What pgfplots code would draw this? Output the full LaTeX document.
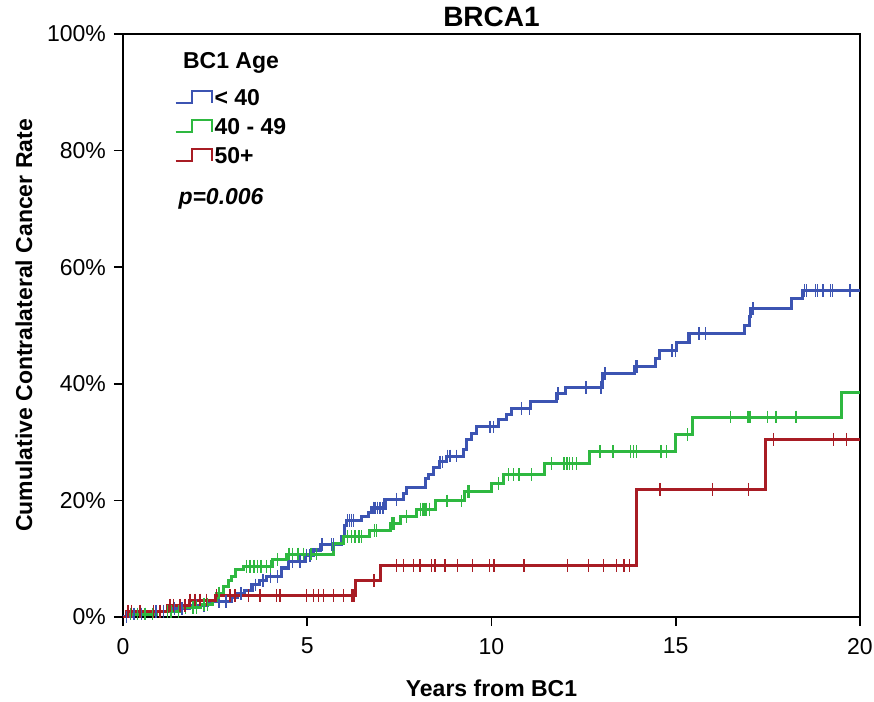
\documentclass[border=0pt]{standalone}
\usepackage{fontspec}
\setmainfont{Liberation Sans}
\usepackage{pgfplots}
\pgfplotsset{compat=1.18}

\definecolor{cBlue}{RGB}{60,84,178}
\definecolor{cGreen}{RGB}{46,184,64}
\definecolor{cRed}{RGB}{168,28,36}

\begin{document}
\fontsize{11.5}{13.8}\selectfont
\begin{tikzpicture}
\begin{axis}[
  scale only axis,
  width=368.5pt, height=291.5pt,
  xmin=0, xmax=20, ymin=0, ymax=100,
  xtick={0,5,10,15,20},
  ytick={0,20,40,60,80,100},
  yticklabel={\pgfmathprintnumber{\tick}\%},
  /pgf/number format/assume math mode=true,
  tick align=outside, xtick pos=bottom, ytick pos=left,
  major tick length=4.5pt,
  tick style={black, line width=0.8pt},
  axis line style={line width=0.8pt},
  xticklabel style={yshift=-2pt},
  title={BRCA1},
  title style={font=\fontsize{14}{16}\selectfont\bfseries, at={(axis description cs:0.5,1)}, anchor=south, yshift=-6.5pt},
  xlabel={Years from BC1},
  ylabel={Cumulative Contralateral Cancer Rate},
  label style={font=\bfseries},
  xlabel style={at={(axis description cs:0.5,-0.1218)}, anchor=center},
  ylabel style={at={(axis description cs:-0.1343,0.5)}, anchor=center},
  legend style={at={(axis cs:1.39,91.0)}, anchor=north west, draw=none, fill=none,
    font=\bfseries, inner sep=0pt, row sep=4pt,
    nodes={inner sep=1pt, text height=8.5pt, text depth=0pt},
    cells={anchor=west}},
  legend image code/.code={\draw[#1, line width=1pt] (0pt,-3pt) -- (8pt,-3pt) -- (8pt,3pt) -- (18pt,3pt) -- (18pt,-3pt);},
]

% legend entries (step symbols)
\addlegendimage{cBlue}
\addlegendentry{< 40}
\addlegendimage{cGreen}
\addlegendentry{40 - 49}
\addlegendimage{cRed}
\addlegendentry{50+}

% ---- age < 40 ----
\addplot[const plot, cBlue, line width=1.55pt, forget plot] coordinates {
(0,0) (0.25,0.5) (0.7,1.0) (1.3,1.5) (1.8,2.0) (2.3,2.6) (2.95,3.3) (3.1,4.0)
(3.3,4.6) (3.5,5.5) (3.7,6.2) (3.9,7.0) (4.3,8.4) (4.5,9.5) (4.94,10.6)
(5.17,11.5) (5.36,12.4) (5.93,13.8) (6.0,15.7) (6.07,16.6) (6.48,17.3)
(6.66,18.0) (6.75,18.7) (7.11,20.2) (7.61,21.2) (7.70,22.2) (8.2,23.7)
(8.29,24.5) (8.42,25.6) (8.58,26.6) (8.78,27.6) (9.25,28.7) (9.33,30.5)
(9.46,31.5) (9.6,32.6) (10.19,33.8) (10.41,34.8) (10.55,35.8) (11.07,37.0)
(11.77,38.3) (12.0,39.4) (13.0,41.7) (13.88,42.9) (14.44,44.3) (14.55,45.7)
(15.02,47.1) (15.36,48.6) (16.86,50.0) (16.99,51.5) (17.04,52.9) (18.15,54.6)
(18.44,56.0) (20,56.0)
};
\addplot[only marks, mark=|, mark size=3.2pt, cBlue, mark options={line width=0.7pt}, forget plot] coordinates {
(0.1,0) (0.3,0.5) (0.5,0.5) (0.6,0.5) (0.9,1.0) (1.1,1.0) (1.4,1.5) (1.6,1.5)
(2.0,2.0) (2.2,2.0) (2.6,2.6) (2.8,2.6) (3.2,4.0) (3.6,5.5) (3.8,6.2) (4.0,7.0)
(4.2,7.0) (4.6,9.5) (4.8,9.5) (4.98,10.6) (5.07,10.6) (5.4,12.4) (5.66,12.4)
(5.71,12.4) (6.1,16.6) (6.14,16.6) (6.2,16.6) (6.25,16.6) (6.8,18.7) (6.84,18.7)
(6.9,18.7) (6.97,18.7) (7.06,18.7) (7.43,20.2) (8.6,26.6) (8.67,26.6) (8.8,27.6)
(8.87,27.6) (9.05,27.6) (9.96,32.6) (10.05,32.6) (10.82,35.8) (11.03,35.8)
(11.81,38.3) (12.56,39.4) (12.97,39.4) (13.08,41.7) (13.92,42.9) (13.97,42.9)
(14.9,45.7) (15.0,45.7) (15.63,48.6) (15.8,48.6) (17.1,52.9) (18.5,56.0)
(18.55,56.0) (18.8,56.0) (18.85,56.0) (19.0,56.0) (19.2,56.0) (19.25,56.0) (19.73,56.0)
};

% ---- age 40 - 49 ----
\addplot[const plot, cGreen, line width=1.5pt, forget plot] coordinates {
(0,0) (0.1,0.5) (0.9,1.0) (1.6,1.6) (2.1,2.2) (2.44,2.9) (2.54,4.1) (2.72,5.2)
(2.85,6.3) (2.95,6.9) (3.04,8.2) (3.27,8.7) (4.07,9.8) (4.44,10.8) (5.71,12.6)
(5.98,13.8) (6.70,14.8) (7.25,16.0) (7.52,17.3) (7.97,18.5) (8.49,19.9)
(9.28,21.5) (10.0,22.9) (10.32,24.4) (11.43,26.3) (12.67,28.4) (15.0,31.3)
(15.45,34.3) (19.5,38.5) (20,38.5)
};
\addplot[only marks, mark=|, mark size=3.2pt, cGreen, mark options={line width=0.7pt}, forget plot] coordinates {
(0.2,0.5) (0.4,0.5) (0.6,0.5) (0.8,0.5) (1.0,1.0) (1.2,1.0) (1.3,1.0) (1.5,1.0)
(1.7,1.6) (1.9,1.6) (2.0,1.6) (2.2,2.2) (2.3,2.2) (2.6,4.1) (3.35,8.7) (3.45,8.7)
(3.55,8.7) (3.65,8.7) (3.75,8.7) (3.9,8.7) (4.0,8.7) (4.2,9.8) (4.5,10.8)
(4.6,10.8) (4.75,10.8) (4.9,10.8) (5.1,10.8) (5.25,10.8) (6.1,13.8) (6.2,13.8)
(6.3,13.8) (6.4,13.8) (6.48,13.8) (6.82,14.8) (6.88,14.8) (7.3,16.0) (7.35,16.0)
(7.7,17.3) (8.08,18.5) (8.13,18.5) (8.17,18.5) (8.22,18.5) (8.31,18.5) (8.79,19.9)
(9.18,19.9) (9.36,21.5) (9.41,21.5) (10.19,22.9) (10.46,24.4) (10.6,24.4)
(10.75,24.4) (11.09,24.4) (11.63,26.3) (11.97,26.3) (12.05,26.3) (12.12,26.3)
(12.2,26.3) (12.3,26.3) (12.94,28.4) (13.3,28.4) (13.78,28.4) (13.86,28.4)
(13.94,28.4) (14.6,28.4) (14.75,28.4) (15.32,31.3) (16.49,34.3) (16.95,34.3)
(16.98,34.3) (17.02,34.3) (17.49,34.3) (17.72,34.3) (18.26,34.3)
};

% ---- age 50+ ----
\addplot[const plot, cRed, line width=1.5pt, forget plot] coordinates {
(0,0) (0.1,1.0) (1.2,2.0) (1.8,2.9) (2.5,3.7) (6.32,6.2) (7.0,8.8)
(13.94,21.9) (17.44,30.5) (20,30.5)
};
\addplot[only marks, mark=|, mark size=3.2pt, cRed, mark options={line width=0.7pt}, forget plot] coordinates {
(0.14,1.0) (0.23,1.0) (0.46,1.0) (0.82,1.0) (1.0,1.0) (1.28,2.0) (1.37,2.0)
(1.55,2.0) (1.68,2.0) (1.82,2.9) (1.95,2.9) (2.09,2.9) (2.27,2.9) (2.54,3.7)
(2.9,3.7) (3.04,3.7) (3.4,3.7) (3.72,3.7) (4.17,3.7) (4.26,3.7) (4.98,3.7)
(5.17,3.7) (5.31,3.7) (5.44,3.7) (5.71,3.7) (5.98,3.7) (6.21,3.7) (6.27,3.7)
(6.81,6.2) (7.43,8.8) (7.61,8.8) (7.88,8.8) (8.06,8.8) (8.37,8.8) (8.47,8.8)
(8.74,8.8) (9.07,8.8) (9.49,8.8) (9.94,8.8) (10.07,8.8) (10.88,8.8) (12.07,8.8)
(12.63,8.8) (13.04,8.8) (13.4,8.8) (13.6,8.8) (13.75,8.8) (14.57,21.9)
(15.99,21.9) (16.97,21.9) (17.65,30.5) (19.28,30.5) (19.64,30.5)
};

% legend heading and test statistic
\node[font=\bfseries] at (axis cs:2.93,95.0) {BC1 Age};
\node[font=\bfseries\itshape] at (axis cs:2.66,71.7) {p=0.006};
\end{axis}
\path (current axis.south west) ++(-61.5pt,-42.5pt) coordinate (bbsw);
\path (current axis.north east) ++(7pt,17pt) coordinate (bbne);
\pgfresetboundingbox
\useasboundingbox (bbsw) rectangle (bbne);
\end{tikzpicture}
\end{document}
